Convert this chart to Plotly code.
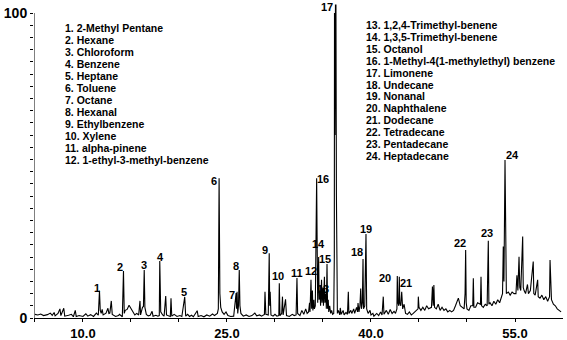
import plotly.graph_objects as go

# Chromatogram trace (retention time in min, relative abundance %)
rt = [5.0,5.3,5.6,5.9,6.3,6.6,6.8,7.0,7.1,7.4,7.6,7.7,8.0,8.1,8.5,8.8,9.0,9.2,9.3,9.6,10.0,10.3,10.5,10.8,11.1,11.4,
      11.6,11.72,11.8,11.9,12.0,12.1,12.4,12.6,12.7,12.8,12.95,13.05,13.4,13.7,13.8,
      14.1,14.22,14.3,14.4,14.6,14.8,15.0,15.2,15.4,15.6,15.8,15.94,16.0,16.2,
      16.3,16.38,16.45,16.6,16.8,17.0,17.2,17.3,17.6,17.8,
      17.95,18.0,18.05,18.1,18.3,18.45,18.62,18.7,18.9,19.1,19.17,19.25,19.5,19.8,20.1,20.3,
      20.6,20.7,20.9,21.1,21.3,21.5,21.9,22.0,22.3,22.6,22.9,23.2,23.5,23.7,
      24.0,24.1,24.18,24.22,24.26,24.35,24.5,24.7,24.9,25.1,25.4,
      25.7,25.95,26.0,26.05,26.12,26.2,26.28,26.35,26.45,26.7,27.0,27.3,27.6,27.9,28.1,28.4,28.6,
      28.9,28.96,29.05,29.3,29.4,29.45,29.5,29.58,29.8,30.0,30.2,
      30.4,30.45,30.52,30.7,30.78,30.85,31.1,31.2,31.5,31.8,32.0,
      32.2,32.29,32.36,32.6,32.8,33.0,33.2,33.35,
      33.5,33.6,33.65,33.75,33.82,33.9,33.95,34.05,34.1,
      34.2,34.28,34.3,34.34,34.38,34.42,
      34.45,34.55,34.6,34.7,34.75,34.85,34.9,35.0,35.05,35.15,35.2,35.3,35.35,35.42,35.48,35.55,35.6,35.7,35.8,35.9,36.0,
      36.12,36.18,36.2,36.25,36.3,36.35,36.4,36.45,36.5,
      36.6,36.75,36.8,36.9,37.1,37.2,37.4,37.55,37.64,37.7,37.9,38.0,38.2,38.3,38.5,38.6,38.65,38.75,38.85,38.93,39.0,39.1,39.17,39.22,39.35,39.48,39.55,39.7,39.9,40.0,40.2,
      40.3,40.6,40.8,41.0,41.15,41.28,41.35,41.6,41.8,42.0,42.2,42.4,42.55,
      42.7,42.74,42.8,42.9,42.95,43.0,43.1,43.2,43.3,43.45,43.6,43.8,44.0,44.2,44.4,44.6,
      44.9,44.93,45.0,45.2,45.4,45.6,45.8,46.0,
      46.3,46.4,46.48,46.55,46.62,46.8,47.0,47.2,47.4,47.6,47.8,48.0,48.2,48.4,48.6,48.8,
      48.9,49.1,49.3,49.5,49.7,49.8,49.86,49.92,50.0,50.2,50.4,
      50.6,50.66,50.72,50.9,51.1,51.4,51.46,51.52,51.7,51.9,52.1,
      52.22,52.28,52.4,52.6,52.8,53.0,53.2,53.4,53.6,
      53.7,53.78,53.85,53.96,54.02,54.1,54.3,54.5,54.7,54.9,
      55.1,55.2,55.3,55.42,55.5,55.6,55.8,55.86,55.95,56.1,56.3,56.4,56.6,
      56.9,56.96,57.1,57.36,57.42,57.6,57.8,58.0,58.2,58.4,
      58.6,58.65,58.72,58.8,59.0,59.2,59.4,59.6,59.8]

abundance = [1.2,1.0,1.3,0.8,1.1,1.6,0.9,1.8,0.7,1.5,3.0,0.8,3.2,0.6,0.9,1.2,0.4,2.5,0.5,0.8,0.5,1.4,0.6,1.1,0.5,1.6,
             0.9,8.9,2.5,1.5,2.8,1.0,1.6,3.2,1.5,1.6,5.6,1.2,0.5,0.8,1.2,
             0.4,15.4,1.5,2.5,2.8,4.2,3.0,1.8,1.0,1.5,1.0,5.6,1.0,3.5,
             3.8,15.7,3.5,1.2,0.7,0.9,2.2,0.6,0.9,0.6,
             0.8,18.7,11.0,2.0,1.0,0.6,7.2,1.0,0.7,0.5,6.5,0.6,1.2,0.5,0.8,0.5,
             6.9,0.6,1.2,0.5,0.9,0.4,2.4,0.5,0.8,0.4,1.0,0.6,1.3,0.8,
             1.5,3.0,45.8,25.0,8.0,3.5,2.0,1.2,2.0,0.8,0.5,
             0.6,8.2,3.0,8.6,1.5,4.0,15.7,4.0,1.5,0.6,1.0,0.5,0.8,1.6,0.7,1.0,0.6,
             1.2,8.6,1.2,1.0,21.2,4.0,8.6,1.0,0.6,1.2,0.6,
             0.8,11.4,0.8,1.5,7.0,1.0,6.1,0.8,0.5,1.2,0.8,
             1.0,13.1,1.5,0.8,2.5,1.2,3.0,1.5,
             2.0,5.0,2.0,12.5,3.0,9.0,2.5,6.0,3.0,
             4.0,29.5,20.0,45.8,29.0,8.0,
             5.0,20.0,6.0,9.0,4.0,12.5,5.0,10.0,4.0,13.5,5.0,8.0,3.0,17.7,3.0,6.0,2.0,4.0,1.5,2.5,1.2,
             1.5,20.0,100.0,60.0,102.6,102.6,40.0,8.0,1.5,
             2.5,1.0,3.3,1.2,2.5,1.0,1.8,1.2,8.6,1.5,2.5,1.5,3.0,1.5,3.5,2.0,4.9,2.0,4.0,9.7,3.0,5.0,19.3,3.0,4.0,27.5,3.0,1.5,2.5,1.0,1.5,
             0.6,1.5,0.8,2.0,1.0,7.0,1.2,2.5,1.2,2.8,1.5,2.2,1.5,
             3.0,13.8,5.0,4.0,13.5,5.0,4.0,8.6,3.0,4.5,1.5,1.2,2.0,1.0,1.5,2.0,
             3.0,7.0,3.5,2.5,3.5,2.5,4.0,3.0,
             3.5,10.3,4.0,10.8,3.5,3.0,4.5,2.5,3.5,2.5,3.0,2.0,2.5,2.0,2.5,4.0,
             5.0,6.5,4.0,3.5,3.0,8.0,22.3,5.0,3.0,2.5,4.0,
             4.0,13.0,3.5,3.5,5.0,4.5,13.5,4.0,3.5,4.5,4.0,
             25.3,4.5,5.0,4.0,5.5,4.5,6.0,5.0,7.0,
             8.0,23.4,12.0,51.8,12.0,8.0,8.5,7.5,8.5,8.0,
             8.0,14.0,9.0,20.1,10.0,9.0,26.7,10.0,9.0,8.0,11.0,8.0,9.0,
             18.5,8.0,7.5,12.5,7.0,6.5,7.5,6.0,7.0,5.5,
             7.0,19.0,8.0,6.0,4.5,4.0,3.0,2.5,2.0]

# Peak numbers and placement of their labels (data units)
peak_ids = [str(i) for i in range(1, 25)]
label_t = [11.41,13.85,16.35,18.07,20.57,23.70,25.52,25.89,29.01,30.36,32.34,33.75,
           34.95,34.53,35.16,35.00,35.42,38.54,39.53,41.46,43.65,49.27,52.08,54.69]
label_y = [9.84,16.72,17.54,20.0,8.52,45.08,7.38,17.15,22.30,13.61,14.75,15.41,
           9.51,24.26,19.34,45.57,101.97,21.64,29.18,13.28,11.64,24.43,27.87,53.28]

compounds_left = ["1. 2-Methyl Pentane","2. Hexane","3. Chloroform","4. Benzene","5. Heptane",
                  "6. Toluene","7. Octane","8. Hexanal","9. Ethylbenzene","10. Xylene",
                  "11. alpha-pinene","12. 1-ethyl-3-methyl-benzene"]
compounds_right = ["13. 1,2,4-Trimethyl-benene","14. 1,3,5-Trimethyl-benene","15. Octanol",
                   "16. 1-Methyl-4(1-methylethyl) benzene","17. Limonene","18. Undecane",
                   "19. Nonanal","20. Naphthalene","21. Dodecane","22. Tetradecane",
                   "23. Pentadecane","24. Heptadecane"]

x_tickvals = [5,10,15,20,25,30,35,40,45,50,55]
x_ticklabels = ["","10.0","","","25.0","","","40.0","","","55.0"]

FONT = "Liberation Sans, Arial, sans-serif"
X0, X1 = 4.9, 60.0
Y0, Y1 = 0, 102.95
W, H = 567, 340
ML, MR, MT, MB = 34, 4, 4, 22

fig = go.Figure()
fig.add_trace(go.Scatter(x=rt, y=abundance, mode="lines",
                         line=dict(color="black", width=1.1), hoverinfo="skip"))

ann = []
for pid, lt, ly in zip(peak_ids, label_t, label_y):
    ann.append(dict(x=lt, y=ly, xref="x", yref="y", text="<b>%s</b>" % pid, showarrow=False,
                    font=dict(family=FONT, size=11, color="black"), xanchor="center", yanchor="middle"))

def px_to_x(px):
    return X0 + (px - ML) * (X1 - X0) / (W - ML - MR)

def py_to_y(py):
    return Y1 - (py - MT) * (Y1 - Y0) / (H - MT - MB)

for i, txt in enumerate(compounds_left):
    ann.append(dict(x=px_to_x(63), y=py_to_y(28 + 12 * i), xref="x", yref="y", text="<b>%s</b>" % txt,
                    showarrow=False, xanchor="left", yanchor="middle",
                    font=dict(family=FONT, size=10.5, color="black")))
for i, txt in enumerate(compounds_right):
    ann.append(dict(x=px_to_x(364), y=py_to_y(25 + 11.9 * i), xref="x", yref="y", text="<b>%s</b>" % txt,
                    showarrow=False, xanchor="left", yanchor="middle",
                    font=dict(family=FONT, size=10.5, color="black")))

y_tickvals = list(range(0, 101, 4))
y_ticktext = ["<b>0</b>"] + [""] * (len(y_tickvals) - 2) + ["<b>100</b>"]

fig.update_layout(
    width=W, height=H, margin=dict(l=ML, r=MR, t=MT, b=MB, pad=0, autoexpand=False),
    paper_bgcolor="white", plot_bgcolor="white", showlegend=False,
    annotations=ann,
    shapes=[dict(type="line", xref="x", yref="y", x0=X0, x1=X0, y0=0, y1=100,
                 line=dict(color="black", width=1))],
    xaxis=dict(range=[X0, X1], showgrid=False, zeroline=False, showline=True, linecolor="black",
               linewidth=1, ticks="outside", ticklen=3, tickcolor="black", automargin=False,
               tickvals=x_tickvals, ticktext=["<b>%s</b>" % t if t else "" for t in x_ticklabels],
               tickfont=dict(family=FONT, size=13, color="black")),
    yaxis=dict(range=[Y0, Y1], showgrid=False, zeroline=False, showline=False, automargin=False,
               ticks="outside", ticklen=3, tickcolor="black",
               tickvals=y_tickvals, ticktext=y_ticktext,
               tickfont=dict(family=FONT, size=14, color="black")),
)

fig.write_html("out.html")
